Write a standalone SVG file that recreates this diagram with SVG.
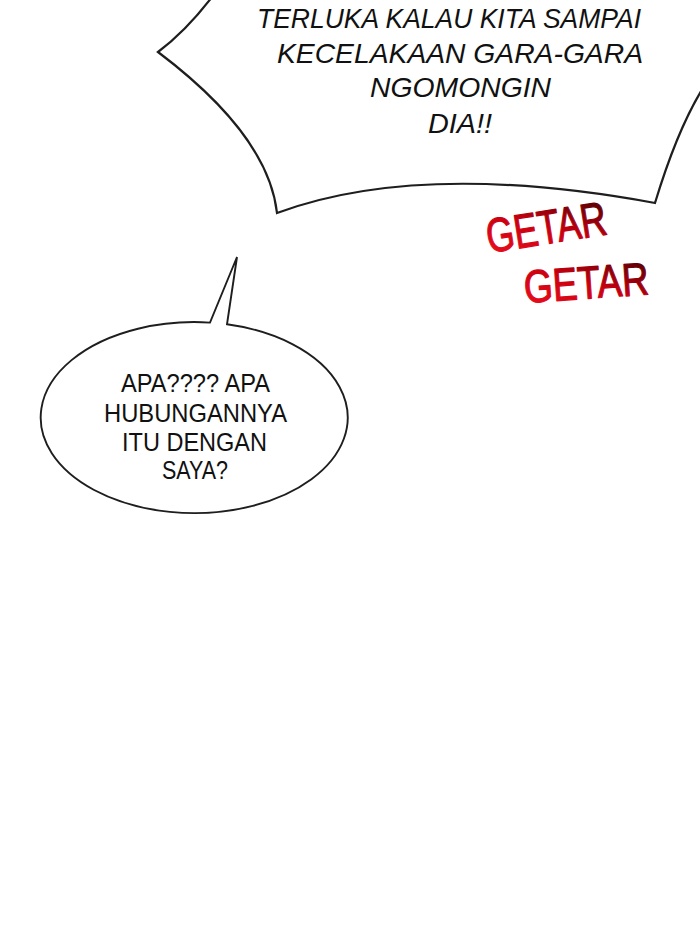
<svg xmlns="http://www.w3.org/2000/svg" width="700" height="934" viewBox="0 0 700 934">
  <defs>
    <linearGradient id="getarGrad" x1="0" y1="1" x2="1" y2="0">
      <stop offset="0" stop-color="#f01020"/>
      <stop offset="0.5" stop-color="#c80010"/>
      <stop offset="1" stop-color="#3a0000"/>
    </linearGradient>
  </defs>
  <style>
    .bubble { fill: #ffffff; stroke: #1e1e1e; stroke-width: 2.2; stroke-linejoin: miter; }
    .shout { font-family: "Liberation Sans", Arial, sans-serif; font-style: italic; font-size: 28px; fill: #111111; }
    .speech { font-family: "Liberation Sans", Arial, sans-serif; font-size: 25.5px; fill: #111111; }
    .sfx { font-family: "Liberation Sans", Arial, sans-serif; fill: url(#getarGrad); stroke: url(#getarGrad); stroke-width: 1.2; stroke-linejoin: round; }
  </style>
  <rect x="0" y="0" width="700" height="934" fill="#ffffff"/>

  <g id="shout-bubble">
    <path class="bubble" d="M212,-3 Q186,31 158,52 C215,95 270,150 277,213 Q420,160 655,203 C665,170 680,125 703,88 L703,-3 Z"/>
    <text class="shout" x="257" y="28" textLength="384" lengthAdjust="spacingAndGlyphs">TERLUKA KALAU KITA SAMPAI</text>
    <text class="shout" x="277" y="63" textLength="366" lengthAdjust="spacingAndGlyphs">KECELAKAAN GARA-GARA</text>
    <text class="shout" x="370" y="97" textLength="181" lengthAdjust="spacingAndGlyphs">NGOMONGIN</text>
    <text class="shout" x="428" y="133" textLength="64" lengthAdjust="spacingAndGlyphs">DIA!!</text>
  </g>

  <g id="sfx-getar-1">
    <text class="sfx" x="489" y="253" font-size="48" textLength="121" lengthAdjust="spacingAndGlyphs" transform="rotate(-9 489 253)">GETAR</text>
  </g>
  <g id="sfx-getar-2">
    <text class="sfx" x="525" y="303" font-size="46" textLength="125" lengthAdjust="spacingAndGlyphs" transform="rotate(-4 525 303)">GETAR</text>
  </g>

  <g id="speech-bubble">
    <path class="bubble" style="stroke-width:1.9" d="M227,324.3 A153.5,95.5 0 1 1 210,322.6 L237,257 Z"/>
    <text class="speech" x="121" y="392" textLength="149" lengthAdjust="spacingAndGlyphs">APA???? APA</text>
    <text class="speech" x="104" y="422" textLength="183" lengthAdjust="spacingAndGlyphs">HUBUNGANNYA</text>
    <text class="speech" x="122" y="451" textLength="145" lengthAdjust="spacingAndGlyphs">ITU DENGAN</text>
    <text class="speech" x="162" y="479" textLength="66" lengthAdjust="spacingAndGlyphs">SAYA?</text>
  </g>
</svg>
